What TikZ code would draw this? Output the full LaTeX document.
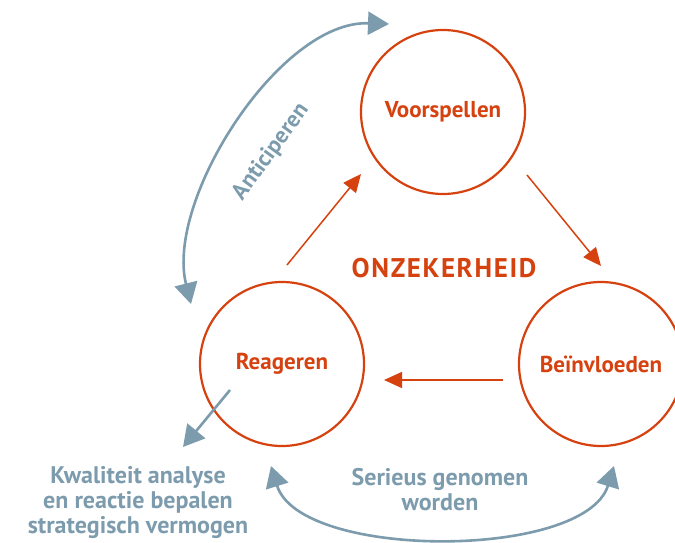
\documentclass[tikz,border=0pt]{standalone}
\usepackage{fontspec}
\setmainfont{PT Sans}
\usetikzlibrary{arrows.meta}
\definecolor{roest}{HTML}{D5420F}
\definecolor{leisteen}{HTML}{7C9BAD}

\begin{document}
\begin{tikzpicture}[x=1pt,y=-1pt,
  fase/.style={circle, draw=roest, line width=2.2pt, minimum size=164pt,
    inner sep=0pt, text=roest, font=\bfseries\fontsize{23}{26}\selectfont},
  stap/.style={draw=roest, line width=1.5pt,
    -{Triangle[length=18pt,width=16pt]}},
  lus/.style={draw=leisteen, line width=2.6pt},
  uitleg/.style={text=leisteen, align=center,
    font=\bfseries\fontsize{24}{25}\selectfont}
]
\useasboundingbox (0,0) rectangle (675,543);

% the three phases
\node[fase] (V) at (443,112) {Voorspellen};
\node[fase] (R) at (282,364) {Reageren};
\node[fase] (B) at (601,364) {Beïnvloeden};

\node[text=roest, font=\bfseries\fontsize{27}{30}\selectfont\addfontfeature{LetterSpace=6}]
  (onz) at (444,268) {ONZEKERHEID};

% cycle arrows between the phases
\coordinate (rv1) at (287,265);
\coordinate (rv2) at (361,174);
\coordinate (vb1) at (527,175);
\coordinate (vb2) at (601,266);
\coordinate (br1) at (503,380);
\coordinate (br2) at (384,380);
\draw[stap] (rv1) -- (rv2);
\draw[stap] (vb1) -- (vb2);
\draw[stap] (br1) -- (br2);

% anticipating loop
\coordinate (a1) at (191,304);
\coordinate (a2) at (389,24);
\draw[lus, {Triangle[length=21pt,width=23pt]}-{Triangle[length=21pt,width=23pt]}]
  (a1) .. controls (165,200) and (280,20) .. (a2);
\node[text=leisteen, rotate=54, font=\bfseries\fontsize{23}{26}\selectfont]
  (ant) at (271,152) {Anticiperen};

% being taken seriously
\coordinate (s1) at (271,466);
\coordinate (s2) at (614,466);
\draw[lus, {Triangle[length=21pt,width=23pt]}-{Triangle[length=21pt,width=23pt]}]
  (s1) .. controls (300,560) and (585,560) .. (s2);
\node[uitleg] (ser) at (440,490) {Serieus genomen\\worden};

% quality of analysis
\coordinate (k1) at (230,390);
\coordinate (k2) at (183,447);
\draw[lus, -{Triangle[length=21pt,width=23pt]}] (k1) -- (k2);
\node[uitleg] (kwa) at (138,503) {Kwaliteit analyse\\en reactie bepalen\\strategisch vermogen};
\end{tikzpicture}
\end{document}
